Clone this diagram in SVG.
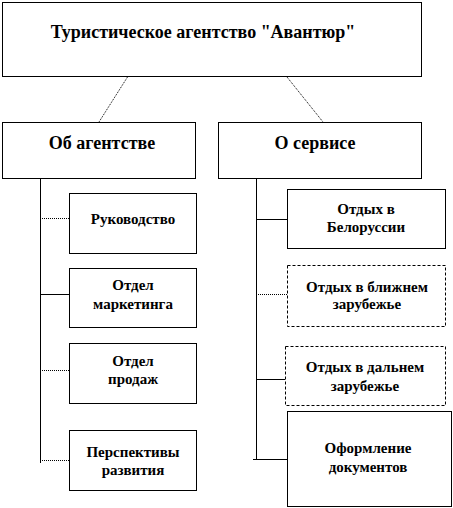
<svg xmlns="http://www.w3.org/2000/svg" width="453" height="508" viewBox="0 0 453 508">
<style>
.box{fill:#fff;stroke:#000;stroke-width:1}
.dash{stroke-dasharray:3,2}
.t{font-family:'Liberation Serif','Times New Roman',serif;font-weight:bold;fill:#000;text-anchor:middle}
.big{font-size:18px}
.sm{font-size:15px}
.ln{stroke:#000;stroke-width:1;fill:none}
.dot{stroke-dasharray:1,1}
</style>
<rect width="453" height="508" fill="#fff"/>
<g id="connectors">
<line class="ln dot" x1="127.5" y1="77" x2="99" y2="122"/>
<line class="ln dot" x1="287" y1="77" x2="323" y2="122"/>
<line class="ln" x1="40.5" y1="178" x2="40.5" y2="463"/>
<line class="ln dot" x1="40" y1="218.5" x2="69" y2="218.5"/>
<line class="ln" x1="40" y1="294.5" x2="69" y2="294.5"/>
<line class="ln dot" x1="40" y1="370.5" x2="69" y2="370.5"/>
<line class="ln dot" x1="40" y1="460.5" x2="69" y2="460.5"/>
<line class="ln" x1="256.5" y1="178" x2="256.5" y2="460"/>
<line class="ln" x1="256" y1="219.5" x2="287" y2="219.5"/>
<line class="ln dot" x1="256" y1="294.5" x2="287" y2="294.5"/>
<line class="ln" x1="256" y1="379.5" x2="285" y2="379.5"/>
<line class="ln" x1="253" y1="459.5" x2="287" y2="459.5"/>
</g>
<g id="root">
<rect class="box" x="2.5" y="2.5" width="419" height="74"/>
<text class="t big" x="203" y="38">Туристическое агентство "Авантюр"</text>
</g>
<g id="about">
<rect class="box" x="2.5" y="122.5" width="193" height="56"/>
<text class="t big" x="102" y="149">Об агентстве</text>
</g>
<g id="service">
<rect class="box" x="218.5" y="122.5" width="203" height="56"/>
<text class="t big" x="315" y="149">О сервисе</text>
</g>
<g id="management">
<rect class="box" x="69.5" y="193.5" width="127" height="60"/>
<text class="t sm" x="133" y="224">Руководство</text>
</g>
<g id="marketing">
<rect class="box" x="69.5" y="268.5" width="127" height="59"/>
<text class="t sm" x="133" y="290">Отдел</text>
<text class="t sm" x="133" y="309">маркетинга</text>
</g>
<g id="sales">
<rect class="box" x="69.5" y="343.5" width="127" height="60"/>
<text class="t sm" x="133" y="366">Отдел</text>
<text class="t sm" x="133" y="384">продаж</text>
</g>
<g id="prospects">
<rect class="box" x="69.5" y="430.5" width="127" height="60"/>
<text class="t sm" x="133" y="457">Перспективы</text>
<text class="t sm" x="133" y="475">развития</text>
</g>
<g id="belarus">
<rect class="box" x="287.5" y="189.5" width="158" height="59"/>
<text class="t sm" x="366" y="214">Отдых в</text>
<text class="t sm" x="366" y="232">Белоруссии</text>
</g>
<g id="near">
<rect class="box dash" x="287.5" y="265.5" width="158" height="61"/>
<text class="t sm" x="367" y="292">Отдых в ближнем</text>
<text class="t sm" x="367" y="309">зарубежье</text>
</g>
<g id="far">
<rect class="box dash" x="285.5" y="346.5" width="160" height="59"/>
<text class="t sm" x="365" y="372">Отдых в дальнем</text>
<text class="t sm" x="365" y="391">зарубежье</text>
</g>
<g id="documents">
<rect class="box" x="287.5" y="411.5" width="164" height="95"/>
<text class="t sm" x="368" y="453">Оформление</text>
<text class="t sm" x="368" y="472">документов</text>
</g>
</svg>
